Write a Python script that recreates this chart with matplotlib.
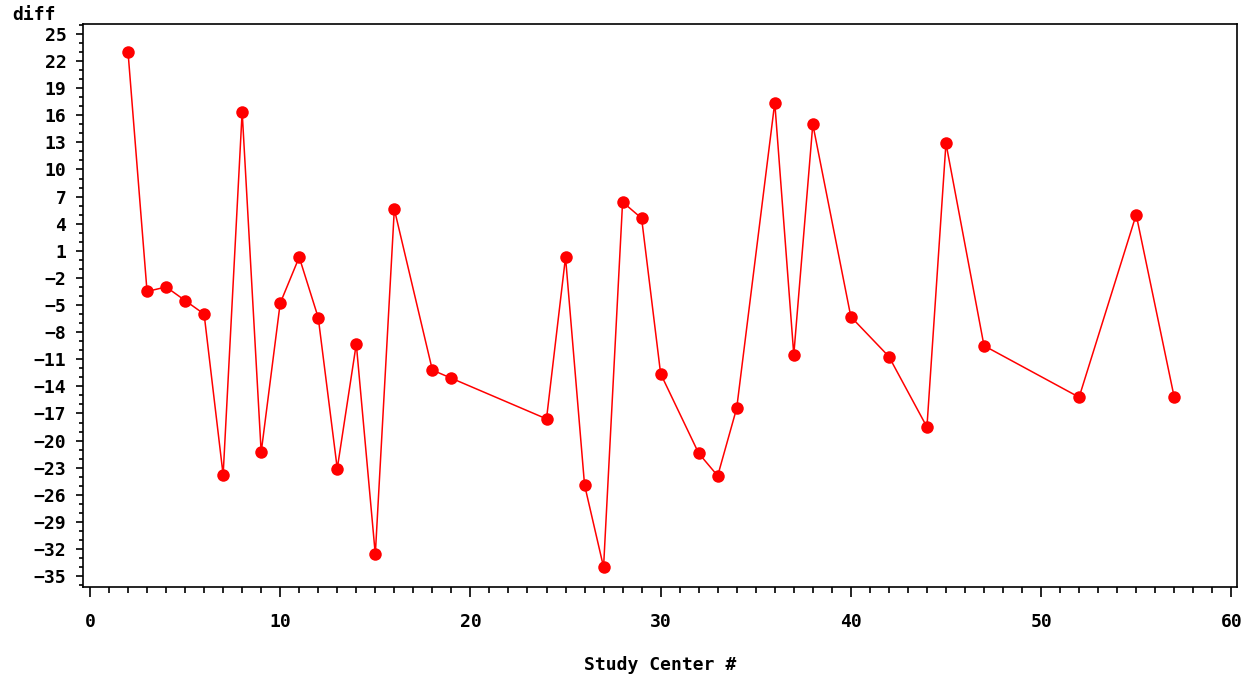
import numpy as np
from matplotlib import pyplot as plt
from matplotlib.ticker import MultipleLocator

# study centre numbers and the difference value at each
centers = [2, 3, 4, 5, 6, 7, 8, 9, 10, 11, 12, 13, 14, 15, 16, 18, 19,
           24, 25, 26, 27, 28, 29, 30, 32, 33, 34, 36, 37, 38, 40, 42,
           44, 45, 47, 52, 55, 57]
diff = [23.0, -3.5, -3.0, -4.5, -6.0, -23.8, 16.4, -21.3, -4.8, 0.3,
        -6.4, -23.1, -9.3, -32.6, 5.6, -12.2, -13.1, -17.6, 0.3, -24.9,
        -34.0, 6.4, 4.6, -12.6, -21.4, -23.9, -16.4, 17.4, -10.5, 15.0,
        -6.3, -10.7, -18.5, 12.9, -9.5, -15.2, 5.0, -15.2]

y_ticks = list(range(-35, 26, 3))
x_ticks = list(range(0, 61, 10))

FONT = {"family": "DejaVu Sans Mono", "weight": "bold", "size": 13}


def main():
    fig = plt.figure(figsize=(12.51, 6.79), dpi=100)
    ax = fig.add_axes([0.0663, 0.1355, 0.9225, 0.8292])

    ax.plot(centers, diff, color="#ff0000", linewidth=1.1,
            marker="o", markersize=9, markeredgewidth=0)

    ax.set_xlim(-0.37, 60.3)
    ax.set_ylim(-36.2, 26.1)

    ax.set_yticks(y_ticks)
    ax.set_xticks(x_ticks)
    ax.yaxis.set_minor_locator(MultipleLocator(1))
    ax.xaxis.set_minor_locator(MultipleLocator(1))
    ax.tick_params(which="both", direction="out", width=1.2, color="black")
    ax.tick_params(axis="x", which="major", length=7.5, pad=11)
    ax.tick_params(axis="x", which="minor", length=4.5)
    ax.tick_params(axis="y", which="major", length=5, pad=7)
    ax.tick_params(axis="y", which="minor", length=3)

    for lbl in ax.get_xticklabels() + ax.get_yticklabels():
        lbl.set_fontfamily(FONT["family"])
        lbl.set_fontweight(FONT["weight"])
        lbl.set_fontsize(FONT["size"])

    for sp in ax.spines.values():
        sp.set_linewidth(1.2)

    fig.text(12 / 1251, 1 - 15 / 679, "diff", ha="left", va="center", **FONT)
    fig.text(660 / 1251, 1 - 665 / 679, "Study Center #", ha="center",
             va="center", **FONT)

    fig.savefig("out.png", dpi=100)


if __name__ == "__main__":
    main()
